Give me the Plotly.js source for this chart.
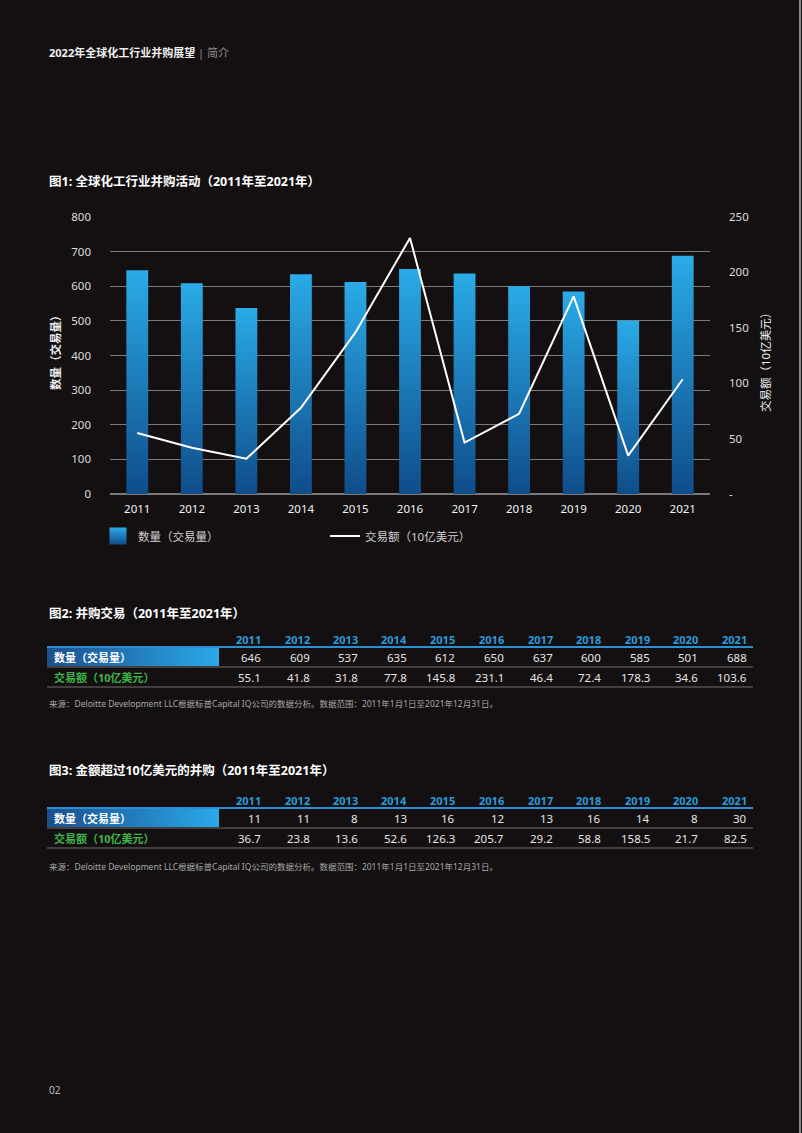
<!DOCTYPE html>
<html><head><meta charset="utf-8">
<script src="https://cdn.plot.ly/plotly-3.0.1.min.js"></script>
<style>html,body{margin:0;padding:0;background:#141011;}#chart{width:802px;height:1133px;}</style>
</head><body><div id="chart"></div>
<script>
// ---- data ----
const years = ['2011','2012','2013','2014','2015','2016','2017','2018','2019','2020','2021'];
const dealCount = [646, 609, 537, 635, 612, 650, 637, 600, 585, 501, 688];
const dealValue = [55.1, 41.8, 31.8, 77.8, 145.8, 231.1, 46.4, 72.4, 178.3, 34.6, 103.6];
const bigDealCount = [11, 11, 8, 13, 16, 12, 13, 16, 14, 8, 30];
const bigDealValue = [36.7, 23.8, 13.6, 52.6, 126.3, 205.7, 29.2, 58.8, 158.5, 21.7, 82.5];
const leftTickVals = [0, 100, 200, 300, 400, 500, 600, 700, 800];
const rightTickVals = [0, 50, 100, 150, 200, 250];
const rightTickText = ['-', '50', '100', '150', '200', '250'];
const seriesCountName = '数量（交易量）';
const seriesValueName = '交易额（10亿美元）';
const headerTitle = '2022年全球化工行业并购展望';
const headerSection = '简介';
const fig1Title = '图1: 全球化工行业并购活动（2011年至2021年）';
const fig2Title = '图2: 并购交易（2011年至2021年）';
const fig3Title = '图3: 金额超过10亿美元的并购（2011年至2021年）';
const sourceNote = '来源：Deloitte Development LLC根据标普Capital IQ公司的数据分析。数据范围：2011年1月1日至2021年12月31日。';
const pageNumber = '02';

// ---- helpers ----
const W = 802, H = 1133;
const X = p => p / W;
const Y = p => 1 - p / H;
const FONT = 'Noto Sans, Noto Sans CJK SC, sans-serif';
const BAR_TAG = 'rgb(31,128,201)';
const CELL_TAG = 'rgb(33,130,203)';

const annotations = [];
const shapes = [];
function txt(x, y, text, o) {
  o = o || {};
  annotations.push({
    xref: 'paper', yref: 'paper', x: X(x), y: Y(y), text: text, showarrow: false,
    xanchor: o.xanchor || 'left', yanchor: 'middle', textangle: o.angle || 0,
    font: {family: FONT, size: o.size || 11, color: o.color || '#e6e6e6'}
  });
}
function hline(x0, x1, y, color, width) {
  shapes.push({type: 'line', xref: 'paper', yref: 'paper', x0: X(x0), x1: X(x1), y0: Y(y), y1: Y(y),
    line: {color: color, width: width}});
}

// header
txt(47, 52, '<b>' + headerTitle + '</b> <span style="color:#8f8f8f">| ' + headerSection + '</span>', {size: 11, color: '#f0f0f0'});
// figure 1 title
txt(47, 182, '<b>' + fig1Title + '</b>', {size: 12.5, color: '#ffffff'});
// axis titles
txt(55, 350, '<b>' + seriesCountName + '</b>', {size: 11.5, color: '#f0f0f0', angle: -90, xanchor: 'center'});
txt(765, 360, seriesValueName, {size: 11.5, color: '#f0f0f0', angle: -90, xanchor: 'center'});

// tables
const colRight = k => 262 + 48.6 * k;
function table(title, titleY, headY, counts, values, srcY) {
  txt(47, titleY, '<b>' + title + '</b>', {size: 12.5, color: '#ffffff'});
  const lineY = headY + 8;
  years.forEach((yr, k) => txt(colRight(k) + 1, headY, '<b>' + yr + '</b>', {xanchor: 'right', size: 11, color: '#2b9ad8'}));
  shapes.push({type: 'rect', xref: 'paper', yref: 'paper', x0: X(47), x1: X(219), y0: Y(lineY + 1), y1: Y(lineY + 19),
    fillcolor: CELL_TAG, line: {width: 0}});
  hline(47, 753, lineY, '#2b8fd3', 2);
  hline(47, 753, lineY + 20, '#6f6f6f', 1);
  hline(47, 753, lineY + 40, '#6f6f6f', 1);
  txt(52, lineY + 10, '<b>' + seriesCountName + '</b>', {size: 11, color: '#ffffff'});
  txt(52, lineY + 30, '<b>' + seriesValueName + '</b>', {size: 11, color: '#3db54a'});
  counts.forEach((v, k) => txt(colRight(k) + 1, lineY + 10, String(v), {xanchor: 'right', size: 11.5, color: '#e6e6e6'}));
  values.forEach((v, k) => txt(colRight(k) + 1, lineY + 30, v.toFixed(1), {xanchor: 'right', size: 11.5, color: '#e6e6e6'}));
  txt(47, srcY, sourceNote, {size: 8.5, color: '#a8a8a8'});
}
table(fig2Title, 613, 639, dealCount, dealValue, 704);
table(fig3Title, 770, 800, bigDealCount, bigDealValue, 866);

txt(47, 1090, pageNumber, {size: 10, color: '#bdbdbd'});

// right page edge
shapes.push({type: 'line', xref: 'paper', yref: 'paper', x0: X(800), x1: X(800), y0: 0, y1: 1, line: {color: '#8a8a8a', width: 2}});

const data = [
  {type: 'bar', x: years, y: dealCount, name: seriesCountName, width: 0.4,
   marker: {color: BAR_TAG, line: {width: 0}}, legend: 'legend', hoverinfo: 'skip'},
  {type: 'scatter', mode: 'lines', x: years, y: dealValue, yaxis: 'y2', name: seriesValueName,
   line: {color: '#ffffff', width: 2}, legend: 'legend2', hoverinfo: 'skip'}
];

const layout = {
  width: W, height: H, margin: {l: 0, r: 0, t: 0, b: 0},
  paper_bgcolor: '#141011', plot_bgcolor: 'rgba(0,0,0,0)',
  font: {family: FONT, color: '#e0e0e0', size: 11},
  xaxis: {domain: [X(110), X(710)], type: 'category', showgrid: false, zeroline: false, showline: false,
    ticks: '', ticklabelstandoff: 6, tickfont: {size: 11.5, color: '#f2f2f2'}},
  yaxis: {domain: [Y(494), Y(217)], range: [0, 800], tickvals: leftTickVals, showgrid: true,
    gridcolor: '#7a7a7a', gridwidth: 1, zeroline: true, zerolinecolor: '#7a7a7a', zerolinewidth: 1.5,
    showline: false, ticks: '', ticklabelstandoff: 18, tickfont: {size: 11.5, color: '#dcdcdc'}},
  yaxis2: {overlaying: 'y', side: 'right', range: [0, 250], tickvals: rightTickVals, ticktext: rightTickText,
    showgrid: false, zeroline: false, showline: false, ticks: '', ticklabelstandoff: 18,
    tickfont: {size: 11.5, color: '#dcdcdc'}},
  showlegend: true,
  legend: {x: X(98), xanchor: 'left', y: Y(536), yanchor: 'middle', orientation: 'h',
    bgcolor: 'rgba(0,0,0,0)', font: {size: 11.5, color: '#cfcfcf'}},
  legend2: {x: X(325), xanchor: 'left', y: Y(536), yanchor: 'middle', orientation: 'h',
    bgcolor: 'rgba(0,0,0,0)', font: {size: 11.5, color: '#cfcfcf'}},
  shapes: shapes,
  annotations: annotations
};

Plotly.newPlot('chart', data, layout, {staticPlot: true, displayModeBar: false}).then(gd => {
  const svg = gd.querySelector('.main-svg');
  let defs = svg.querySelector('defs');
  defs.innerHTML += '<linearGradient id="gV" x1="0" y1="0" x2="0" y2="1"><stop offset="0" stop-color="#2aabe7"/><stop offset="1" stop-color="#0f4c8a"/></linearGradient>' +
    '<linearGradient id="gH" x1="0" y1="0" x2="1" y2="0"><stop offset="0" stop-color="#1b4f8d"/><stop offset="1" stop-color="#2aa9e9"/></linearGradient>';
  gd.querySelectorAll('path').forEach(p => {
    const f = p.style.fill;
    if (f === 'rgb(31, 128, 201)') {
      p.style.fill = 'url(#gV)';
      if (p.closest('.legendpoints')) p.setAttribute('d', 'M8.5,8.5H-8.5V-8.5H8.5Z');
    } else if (f === 'rgb(33, 130, 203)') {
      p.style.fill = 'url(#gH)';
    }
  });
});
</script>
</body></html>
